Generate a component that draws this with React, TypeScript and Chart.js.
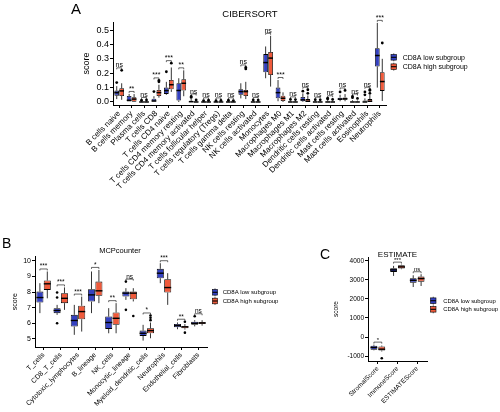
import React, { useEffect, useRef } from 'react';
import { Chart, registerables } from 'chart.js';

Chart.register(...registerables);

const FONT = 'Arial, "Liberation Sans", Helvetica, sans-serif';
Chart.defaults.font.family = FONT;

const LOW_COLOR = '#3441c1';
const HIGH_COLOR = '#ef5a3b';
const seriesNames = ['CD8A low subgroup', 'CD8A high subgroup'];

// ---------- Panel A: CIBERSORT ----------  [min, q1, median, q3, max]
const ciberCats = [
  'B cells naive', 'B cells memory', 'Plasma cells', 'T cells CD8', 'T cells CD4 naive',
  'T cells CD4 memory resting', 'T cells CD4 memory activated', 'T cells follicular helper',
  'T cells regulatory (Tregs)', 'T cells gamma delta', 'NK cells resting', 'NK cells activated',
  'Monocytes', 'Macrophages M0', 'Macrophages M1', 'Macrophages M2', 'Dendritic cells resting',
  'Dendritic cells activated', 'Mast cells resting', 'Mast cells activated', 'Eosinophils', 'Neutrophils',
];
const ciberLow = [
  [0.02, 0.044, 0.065, 0.079, 0.11], [0, 0, 0.012, 0.042, 0.056], [0, 0, 0, 0.003, 0.007],
  [0, 0, 0.007, 0.023, 0.04], [0.05, 0.056, 0.079, 0.1, 0.14], [0, 0.01, 0.08, 0.13, 0.165],
  [0, 0, 0.002, 0.008, 0.02], [0, 0, 0, 0.002, 0.005], [0, 0, 0, 0.002, 0.005],
  [0, 0, 0, 0.002, 0.006], [0.025, 0.05, 0.072, 0.088, 0.13], [0, 0, 0, 0.003, 0.008],
  [0.165, 0.207, 0.274, 0.333, 0.386], [0.005, 0.026, 0.065, 0.1, 0.153], [0, 0, 0, 0.004, 0.01],
  [0, 0.005, 0.015, 0.035, 0.06], [0, 0, 0, 0.004, 0.01], [0, 0, 0, 0.005, 0.012],
  [0.005, 0.014, 0.02, 0.03, 0.05], [0, 0, 0, 0.005, 0.012], [0, 0, 0, 0.01, 0.025],
  [0.1, 0.247, 0.323, 0.374, 0.55],
];
const ciberLowOut = [
  [0.135], [], [0.012], [0.072], [0.21], [], [0.032, 0.038], [0.01], [0.009], [0.012], [], [0.014],
  [], [], [0.018], [0.075], [0.016], [0.02, 0.026], [0.07], [0.03, 0.038], [0.05, 0.07], [],
];
const ciberHigh = [
  [0.015, 0.042, 0.077, 0.095, 0.13], [0, 0.002, 0.02, 0.033, 0.055], [0, 0, 0, 0.004, 0.009],
  [0.03, 0.042, 0.065, 0.084, 0.12], [0.07, 0.088, 0.12, 0.153, 0.24], [0.04, 0.079, 0.13, 0.158, 0.22],
  [0, 0, 0, 0.003, 0.008], [0, 0, 0, 0.003, 0.007], [0, 0, 0, 0.003, 0.006],
  [0, 0, 0, 0.002, 0.006], [0.02, 0.042, 0.072, 0.084, 0.14], [0, 0, 0, 0.003, 0.008],
  [0.107, 0.188, 0.305, 0.347, 0.46], [0, 0.007, 0.026, 0.044, 0.067], [0, 0, 0, 0.004, 0.01],
  [0, 0, 0.005, 0.02, 0.045], [0, 0, 0, 0.004, 0.01], [0, 0, 0, 0.004, 0.01],
  [0.005, 0.015, 0.022, 0.032, 0.055], [0, 0, 0, 0.004, 0.01], [0, 0, 0.005, 0.02, 0.05],
  [0.007, 0.077, 0.142, 0.207, 0.3],
];
const ciberHighOut = [
  [0.22], [], [0.014], [0.14, 0.15], [0.27], [], [0.014], [0.012], [0.011], [0.01], [0.23, 0.24], [0.013],
  [], [], [0.017], [0.06, 0.085], [0.015], [0.018], [0.08], [0.025], [0.06, 0.08, 0.085], [0.41],
];
const ciberSig = ['ns', '**', 'ns', '***', '***', '**', 'ns', 'ns', 'ns', 'ns', 'ns', 'ns', 'ns', '***', 'ns', 'ns', 'ns', 'ns', 'ns', 'ns', 'ns', '***'];
const ciberTicks = [0, 0.1, 0.2, 0.3, 0.4, 0.5];

// ---------- Panel B: MCPcounter ----------
const mcpCats = ['T_cells', 'CD8_T_cells', 'Cytotoxic_lymphocytes', 'B_lineage', 'NK_cells', 'Monocytic_lineage', 'Myeloid_dendritic_cells', 'Neutrophils', 'Endothelial_cells', 'Fibroblasts'];
const mcpLow = [
  [6.65, 7.33, 7.65, 8.03, 8.57], [6.54, 6.65, 6.82, 6.97, 7.18], [5.26, 5.79, 6.18, 6.54, 7.18],
  [6.65, 7.39, 7.82, 8.18, 9.32], [5.36, 5.64, 6.05, 6.43, 6.97], [7.5, 7.71, 7.93, 8.03, 8.25],
  [4.89, 5.19, 5.36, 5.53, 5.9], [8.57, 8.89, 9.21, 9.49, 9.85], [5.62, 5.75, 5.85, 5.96, 6.05],
  [5.8, 5.9, 6.0, 6.1, 6.2],
];
const mcpLowOut = [[], [7.97, 7.65, 6.0], [], [], [], [8.67, 6.86], [], [], [], [6.45]];
const mcpHigh = [
  [7.6, 8.14, 8.53, 8.74, 9.32], [6.86, 7.29, 7.6, 7.93, 8.3], [5.47, 6.26, 6.75, 7.12, 7.71],
  [7.29, 7.76, 8.08, 8.67, 9.42], [5.36, 5.9, 6.32, 6.69, 7.29], [7.4, 7.54, 7.93, 8.03, 8.25],
  [5.04, 5.36, 5.53, 5.68, 6.05], [7.18, 7.97, 8.29, 8.82, 9.21], [5.6, 5.68, 5.77, 5.83, 5.95],
  [5.85, 5.95, 6.02, 6.08, 6.2],
];
const mcpHighOut = [[], [], [], [], [], [6.47], [6.2, 6.35, 6.5], [], [6.1, 5.4], []];
const mcpSig = ['***', '***', '***', '*', '**', 'ns', '*', '***', '**', 'ns'];
const mcpTicks = [5, 6, 7, 8, 9, 10];

// ---------- Panel C: ESTIMATE ----------
const estCats = ['StromalScore', 'ImmuneScore', 'ESTIMATEScore'];
const estLow = [[-700, -673, -550, -462, -400], [3206, 3418, 3524, 3612, 3735], [2624, 2853, 2977, 3083, 3240]];
const estLowOut = [[], [], []];
const estHigh = [[-760, -710, -640, -500, -450], [3560, 3594, 3680, 3771, 3800], [2677, 2906, 3065, 3170, 3295]];
const estHighOut = [[-1115], [], []];
const estSig = ['*', '***', 'ns'];
const estTicks = [-1000, 0, 1000, 2000, 3000, 4000];

// ---------- plugin: whiskers, medians, outliers, significance, title, legend ----------
const boxDecor = {
  id: 'boxDecor',
  afterDatasetsDraw(chart: any, _args: any, o: any) {
    const ctx = chart.ctx;
    const ys = chart.scales.y;
    const tops: number[] = [];
    const xs: number[][] = [];
    chart.data.datasets.forEach((ds: any, di: number) => {
      const meta = chart.getDatasetMeta(di);
      meta.data.forEach((el: any, j: number) => {
        const s = ds.stats[j];
        const x = el.x;
        const w = el.width;
        const outs: number[] = ds.outliers[j] || [];
        ctx.save();
        ctx.strokeStyle = '#000';
        ctx.lineWidth = o.lw;
        ctx.beginPath();
        ctx.moveTo(x, ys.getPixelForValue(s[3]));
        ctx.lineTo(x, ys.getPixelForValue(s[4]));
        ctx.moveTo(x, ys.getPixelForValue(s[1]));
        ctx.lineTo(x, ys.getPixelForValue(s[0]));
        ctx.stroke();
        ctx.lineWidth = o.medW;
        const ym = ys.getPixelForValue(s[2]);
        ctx.beginPath();
        ctx.moveTo(x - w / 2, ym);
        ctx.lineTo(x + w / 2, ym);
        ctx.stroke();
        ctx.fillStyle = '#000';
        outs.forEach((v) => {
          ctx.beginPath();
          ctx.arc(x, ys.getPixelForValue(v), o.dotR, 0, Math.PI * 2);
          ctx.fill();
        });
        ctx.restore();
        let top = ys.getPixelForValue(s[4]);
        outs.forEach((v) => { top = Math.min(top, ys.getPixelForValue(v)); });
        tops[j] = tops[j] === undefined ? top : Math.min(tops[j], top);
        xs[j] = xs[j] || [];
        xs[j][di] = x;
      });
    });
    const sig: string[] = o.sig || [];
    ctx.save();
    ctx.strokeStyle = '#000';
    ctx.fillStyle = '#000';
    ctx.lineWidth = 0.6;
    ctx.font = `${o.sigFont}px ${FONT}`;
    ctx.textAlign = 'center';
    ctx.textBaseline = 'alphabetic';
    sig.forEach((t, j) => {
      if (tops[j] === undefined) return;
      const by = tops[j] - 2.5;
      const x0 = xs[j][0];
      const x1 = xs[j][1];
      ctx.beginPath();
      ctx.moveTo(x0, by + 1.5);
      ctx.lineTo(x0, by);
      ctx.lineTo(x1, by);
      ctx.lineTo(x1, by + 1.5);
      ctx.stroke();
      ctx.fillText(t, (x0 + x1) / 2, by - 0.5);
    });
    ctx.restore();
  },
  afterDraw(chart: any, _args: any, o: any) {
    const ctx = chart.ctx;
    ctx.save();
    ctx.fillStyle = '#000';
    ctx.textBaseline = 'alphabetic';
    ctx.textAlign = 'left';
    ctx.font = `${o.letterSize}px ${FONT}`;
    ctx.fillText(o.letter, o.letterX, o.letterY);
    ctx.textAlign = 'center';
    ctx.font = `${o.titleSize}px ${FONT}`;
    ctx.fillText(o.title, o.titleX, o.titleY);
    // legend
    const colors = [LOW_COLOR, HIGH_COLOR];
    chart.data.datasets.forEach((ds: any, i: number) => {
      const cy = o.legY + i * o.legDy;
      const bx = o.legX;
      const bw = o.legBw;
      ctx.strokeStyle = '#000';
      ctx.lineWidth = 0.6;
      ctx.beginPath();
      ctx.moveTo(bx + bw / 2, cy - 4);
      ctx.lineTo(bx + bw / 2, cy + 4);
      ctx.stroke();
      ctx.fillStyle = colors[i];
      ctx.fillRect(bx, cy - 2.8, bw, 5.6);
      ctx.strokeRect(bx, cy - 2.8, bw, 5.6);
      ctx.lineWidth = 1.1;
      ctx.beginPath();
      ctx.moveTo(bx, cy);
      ctx.lineTo(bx + bw, cy);
      ctx.stroke();
      ctx.fillStyle = '#000';
      ctx.textAlign = 'left';
      ctx.textBaseline = 'middle';
      ctx.font = `${o.legFont}px ${FONT}`;
      ctx.fillText(ds.label, o.legTextX, cy + 0.3);
    });
    ctx.restore();
  },
};
Chart.register(boxDecor as any);

type Spec = {
  left: number; top: number; w: number; h: number;
  cats: string[]; low: number[][]; lowOut: number[][]; high: number[][]; highOut: number[][];
  sig: string[]; ticks: number[]; min: number; max: number; step: number; fmt: (v: number) => string;
  pad: { left: number; right: number; top: number; bottom: number };
  yW: number; xH: number; xFont: number; yFont: number; yTitleFont: number; yTitlePad: number;
  cp: number; bp: number; decor: any;
};

function makeConfig(p: Spec): any {
  const mk = (i: number, stats: number[][], outs: number[][], color: string) => ({
    label: seriesNames[i],
    data: stats.map((s) => [s[1], s[3]]),
    stats,
    outliers: outs,
    backgroundColor: color,
    borderColor: '#000',
    borderWidth: 0.8,
    borderSkipped: false,
    categoryPercentage: p.cp,
    barPercentage: p.bp,
  });
  return {
    type: 'bar',
    data: {
      labels: p.cats,
      datasets: [mk(0, p.low, p.lowOut, LOW_COLOR), mk(1, p.high, p.highOut, HIGH_COLOR)],
    },
    options: {
      responsive: false,
      maintainAspectRatio: false,
      animation: false,
      layout: { padding: p.pad },
      plugins: {
        legend: { display: false },
        tooltip: { enabled: false },
        boxDecor: p.decor,
      },
      scales: {
        x: {
          grid: { offset: false, drawOnChartArea: false, color: '#000', tickColor: '#000', tickLength: 3 },
          border: { color: '#000', width: 1 },
          ticks: { color: '#000', font: { size: p.xFont, family: FONT }, minRotation: 45, maxRotation: 45, autoSkip: false, padding: 1 },
          afterFit: (s: any) => { s.height = p.xH; },
        },
        y: {
          min: p.min,
          max: p.max,
          grid: { drawOnChartArea: false, color: '#000', tickColor: '#000', tickLength: 3 },
          border: { color: '#000', width: 1 },
          afterBuildTicks: (s: any) => { s.ticks = p.ticks.map((v) => ({ value: v })); },
          ticks: { color: '#000', font: { size: p.yFont, family: FONT }, padding: 1, callback: (v: any) => p.fmt(Number(v)) },
          title: { display: true, text: 'score', color: '#000', font: { size: p.yTitleFont, family: FONT }, padding: { top: p.yTitlePad, bottom: 0 } },
          afterFit: (s: any) => { s.width = p.yW; },
        },
      },
    },
  };
}

const specs: Spec[] = [
  {
    left: 0, top: 0, w: 500, h: 240,
    cats: ciberCats, low: ciberLow, lowOut: ciberLowOut, high: ciberHigh, highOut: ciberHighOut,
    sig: ciberSig, ticks: ciberTicks, min: -0.021, max: 0.556, step: 0.1, fmt: (v) => v.toFixed(1),
    pad: { left: 78, right: 114, top: 22, bottom: 5 }, yW: 35, xH: 130,
    xFont: 8, yFont: 9, yTitleFont: 9, yTitlePad: 3.6, cp: 0.8, bp: 0.95,
    decor: {
      letter: 'A', letterX: 71, letterY: 14, letterSize: 15,
      title: 'CIBERSORT', titleX: 250, titleY: 16.5, titleSize: 9.5,
      legX: 391, legY: 57.3, legDy: 9.4, legBw: 5.5, legTextX: 402.7, legFont: 7,
      sig: ciberSig, sigFont: 7, dotR: 1.4, lw: 0.8, medW: 1.5,
    },
  },
  {
    left: 0, top: 230, w: 320, h: 182,
    cats: mcpCats, low: mcpLow, lowOut: mcpLowOut, high: mcpHigh, highOut: mcpHighOut,
    sig: mcpSig, ticks: mcpTicks, min: 4.48, max: 10.28, step: 1, fmt: (v) => String(v),
    pad: { left: 11, right: 113, top: 26.5, bottom: 5 }, yW: 24, xH: 60,
    xFont: 7, yFont: 7, yTitleFont: 7, yTitlePad: 0, cp: 0.86, bp: 0.95,
    decor: {
      letter: 'B', letterX: 2, letterY: 18, letterSize: 14,
      title: 'MCPcounter', titleX: 120, titleY: 23, titleSize: 7.5,
      legX: 212.5, legY: 62.3, legDy: 8.7, legBw: 5, legTextX: 222.7, legFont: 6,
      sig: mcpSig, sigFont: 6.5, dotR: 1.3, lw: 0.8, medW: 1.4,
    },
  },
  {
    left: 320, top: 230, w: 180, h: 182,
    cats: estCats, low: estLow, lowOut: estLowOut, high: estHigh, highOut: estHighOut,
    sig: estSig, ticks: estTicks, min: -1260, max: 4200, step: 1000, fmt: (v) => String(v),
    pad: { left: 11, right: 73, top: 27, bottom: 5 }, yW: 37, xH: 46,
    xFont: 6.5, yFont: 6.5, yTitleFont: 6.5, yTitlePad: 0.9, cp: 0.8, bp: 0.86,
    decor: {
      letter: 'C', letterX: 0, letterY: 29, letterSize: 14,
      title: 'ESTIMATE', titleX: 77.5, titleY: 27, titleSize: 8,
      legX: 110.5, legY: 70.7, legDy: 8.6, legBw: 5.5, legTextX: 123.3, legFont: 5.9,
      sig: estSig, sigFont: 6, dotR: 1.3, lw: 0.8, medW: 1.4,
    },
  },
];

function Panel({ spec }: { spec: Spec }) {
  const ref = useRef<HTMLCanvasElement>(null);
  useEffect(() => {
    const chart = new Chart(ref.current as HTMLCanvasElement, makeConfig(spec));
    return () => chart.destroy();
  }, [spec]);
  return (
    <canvas
      ref={ref}
      width={spec.w}
      height={spec.h}
      style={{ position: 'absolute', left: spec.left, top: spec.top, width: spec.w, height: spec.h }}
    />
  );
}

export default function App() {
  return (
    <div style={{ position: 'absolute', left: 0, top: 0, width: 500, height: 412, background: '#fff', overflow: 'hidden' }}>
      {specs.map((s, i) => (
        <Panel key={i} spec={s} />
      ))}
    </div>
  );
}
